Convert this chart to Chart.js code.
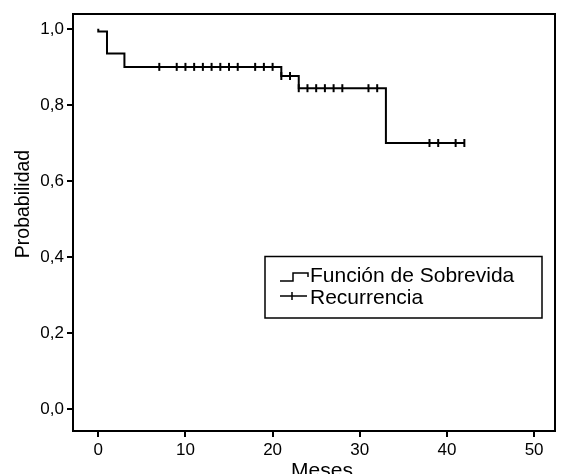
<!DOCTYPE html>
<html>
<head>
<meta charset="utf-8">
<script src="https://cdn.jsdelivr.net/npm/chart.js@4.4.0/dist/chart.umd.min.js"></script>
<style>
  html, body { margin: 0; padding: 0; background: #fff; }
  #wrap { width: 561px; height: 474px; }
</style>
</head>
<body>
<div id="wrap"><canvas id="kmChart" width="561" height="474"></canvas></div>
<script>
// curva de supervivencia (escalones)
const survTimes = [0, 0, 1, 3, 21, 23, 33, 42]
const survProb = [1.0, 0.993, 0.935, 0.9, 0.876, 0.844, 0.7, 0.7]

// casos censurados (recurrencia)
const censorTimes = [7, 9, 10, 11, 12, 13, 14, 15, 16, 18, 19, 20, 21, 22, 23, 24, 25, 26, 27, 28, 31, 32, 38, 39, 41, 42]
const censorProb = [0.9, 0.9, 0.9, 0.9, 0.9, 0.9, 0.9, 0.9, 0.9, 0.9, 0.9, 0.9, 0.876, 0.876, 0.844, 0.844, 0.844, 0.844, 0.844, 0.844, 0.844, 0.844, 0.7, 0.7, 0.7, 0.7]

const xTicks = [0, 10, 20, 30, 40, 50]
const yTicks = [0, 0.2, 0.4, 0.6, 0.8, 1.0]
const seriesNames = ['Función de Sobrevida', 'Recurrencia']
const xTitle = 'Meses'
const yTitle = 'Probabilidad'

const FONT = 'Arial, "Liberation Sans", sans-serif'

// marco, leyenda y títulos de ejes
const framePlugin = {
  id: 'frame',
  afterDatasetsDraw(chart) {
    const { ctx, chartArea } = chart
    ctx.save()
    ctx.strokeStyle = '#000'
    ctx.lineWidth = 2
    ctx.strokeRect(chartArea.left, chartArea.top, chartArea.right - chartArea.left, chartArea.bottom - chartArea.top)

    // leyenda
    ctx.lineWidth = 1.5
    ctx.strokeRect(265, 256.5, 277, 61.5)
    ctx.beginPath()
    ctx.moveTo(280, 281)
    ctx.lineTo(293, 281)
    ctx.lineTo(293, 273)
    ctx.lineTo(308, 273)
    ctx.lineTo(308, 277)
    ctx.stroke()
    ctx.beginPath()
    ctx.moveTo(280, 296)
    ctx.lineTo(307, 296)
    ctx.moveTo(292, 292)
    ctx.lineTo(292, 300)
    ctx.stroke()
    ctx.fillStyle = '#000'
    ctx.font = '21px ' + FONT
    ctx.textAlign = 'left'
    ctx.textBaseline = 'alphabetic'
    ctx.fillText(seriesNames[0], 310, 282)
    ctx.fillText(seriesNames[1], 310, 303.5)

    // títulos
    ctx.font = '21px ' + FONT
    ctx.textAlign = 'center'
    ctx.fillText(xTitle, 322, 477)
    ctx.translate(24, 204)
    ctx.rotate(-Math.PI / 2)
    ctx.font = '19.5px ' + FONT
    ctx.textBaseline = 'middle'
    ctx.fillText(yTitle, 0, 0)
    ctx.restore()
  },
}

const ctx = document.getElementById('kmChart').getContext('2d')
const chart = new Chart(ctx, {
  type: 'scatter',
  data: {
    datasets: [
      {
        label: seriesNames[0],
        data: survTimes.map((t, i) => ({ x: t, y: survProb[i] })),
        showLine: true,
        stepped: 'before',
        borderColor: '#000',
        borderWidth: 2,
        pointRadius: 0,
        fill: false,
      },
      {
        label: seriesNames[1],
        data: censorTimes.map((t, i) => ({ x: t, y: censorProb[i] })),
        showLine: false,
        pointStyle: 'line',
        rotation: 90,
        pointRadius: 4,
        borderColor: '#000',
        borderWidth: 2,
      },
    ],
  },
  options: {
    responsive: false,
    animation: false,
    devicePixelRatio: 1,
    layout: { padding: { top: 14, right: 2, left: 0, bottom: 0 } },
    plugins: {
      legend: { display: false },
      tooltip: { enabled: false },
    },
    scales: {
      x: {
        type: 'linear',
        min: -2.9,
        max: 52.4,
        afterBuildTicks: function (scale) {
          scale.ticks = xTicks.map(v => ({ value: v }))
        },
        afterFit: function (scale) {
          scale.height = 43
        },
        border: { display: false },
        grid: {
          drawOnChartArea: false,
          drawTicks: true,
          tickLength: 6,
          color: '#000',
          lineWidth: 2,
        },
        ticks: {
          autoSkip: false,
          maxRotation: 0,
          color: '#000',
          padding: 3,
          font: { family: FONT, size: 17 },
        },
      },
      y: {
        type: 'linear',
        min: -0.057,
        max: 1.039,
        afterBuildTicks: function (scale) {
          scale.ticks = yTicks.map(v => ({ value: v }))
        },
        afterFit: function (scale) {
          scale.width = 73
        },
        border: { display: false },
        grid: {
          drawOnChartArea: false,
          drawTicks: true,
          tickLength: 6,
          color: '#000',
          lineWidth: 2,
        },
        ticks: {
          color: '#000',
          padding: 3,
          font: { family: FONT, size: 17 },
          callback: function (value) {
            return value.toFixed(1).replace('.', ',')
          },
        },
      },
    },
  },
  plugins: [framePlugin],
})
</script>
</body>
</html>
